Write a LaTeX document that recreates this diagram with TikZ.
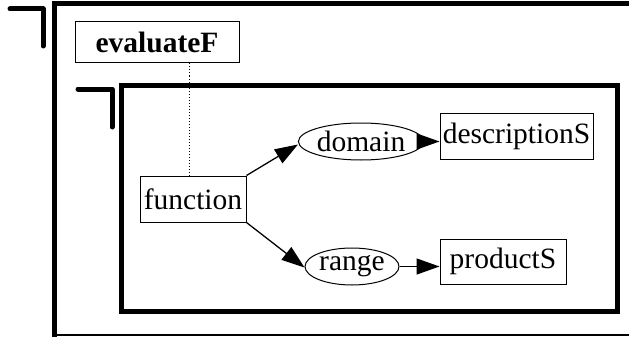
\documentclass[tikz,border=0pt]{standalone}
\usepackage{fontspec}
\setmainfont{Liberation Serif}
\usetikzlibrary{arrows.meta,shapes.geometric}
\begin{document}
\begin{tikzpicture}[x=1pt,y=-1pt,
  every node/.style={inner sep=0pt,font=\fontsize{29.5}{34}\selectfont},
  box/.style={draw,line width=1pt,rectangle},
  oval/.style={draw,line width=1pt,ellipse},
  edge/.style={line width=1.3pt,-{Triangle[length=23pt,width=16pt]}},
  frame/.style={line width=5pt},
  corner/.style={line width=5pt,line cap=round,line join=round}]
\useasboundingbox (0,0) rectangle (629,337);
\clip (0,0) rectangle (629,337);
\fill[white] (0,0) rectangle (629,337);

% outer cluster frame
\draw[frame] (640,4) -- (54.5,4) -- (54.5,345);
\draw[line width=1.5pt] (54.5,335) -- (640,335);
\draw[corner] (10,9) -- (43,9) -- (43,46);

% inner cluster frame
\draw[frame] (121.5,85) rectangle (617,311.5);
\draw[corner] (78,89) -- (112,89) -- (112,127);

% nodes
\node[box,minimum width=164pt,minimum height=41pt] (evalF) at (157,42.5) {\textbf{evaluateF}};
\node[box,minimum width=106pt,minimum height=46pt] (func) at (193,199) {function};
\node[oval,minimum width=112pt,minimum height=37pt] (dom) at (361,141.5) {domain};
\node[oval,minimum width=94pt,minimum height=37pt] (rng) at (352,266.5) {range};
\node[box,minimum width=153pt,minimum height=46pt] (desc) at (516.5,136) {descriptionS};
\node[box,minimum width=126pt,minimum height=45pt] (prod) at (503,261.5) {productS};

% connectors
\draw[dotted,line width=1pt] ([xshift=-4pt]func.north) -- ([xshift=-4pt]func.north |- evalF.south);
\draw[edge] (func.north east) -- ([yshift=-3pt]dom.west);
\draw[edge] (func.south east) -- ([yshift=-1pt]rng.west);
\draw[edge] (dom.east) -- (desc.west |- dom.east);
\draw[edge] (rng.east) -- (prod.west |- rng.east);
\end{tikzpicture}
\end{document}
